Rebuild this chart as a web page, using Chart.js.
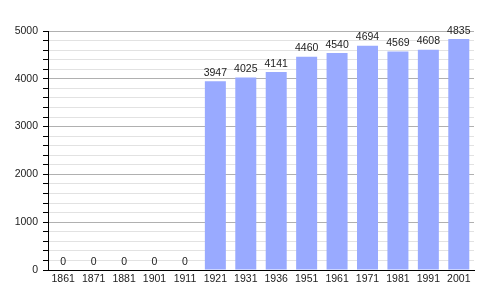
<!DOCTYPE html>
<html>
<head>
<meta charset="utf-8">
<script src="https://cdn.jsdelivr.net/npm/chart.js@4.4.0/dist/chart.umd.min.js"></script>
<style>
  html, body { margin: 0; padding: 0; background: #fff; }
  #wrap { width: 500px; height: 300px; }
</style>
</head>
<body>
<div id="wrap"><canvas id="myChart" width="500" height="300"></canvas></div>
<script>
const years = ["1861","1871","1881","1901","1911","1921","1931","1936","1951","1961","1971","1981","1991","2001"];
const population = [0, 0, 0, 0, 0, 3947, 4025, 4141, 4460, 4540, 4694, 4569, 4608, 4835];
const yMax = 5000;
const yStep = 200;

// value labels over each bar
const valueLabels = {
  id: "valueLabels",
  afterDatasetsDraw(chart) {
    const ctx = chart.ctx;
    const meta = chart.getDatasetMeta(0);
    ctx.save();
    ctx.font = "10.5px 'Liberation Sans', Arial, sans-serif";
    ctx.fillStyle = "#222";
    ctx.textAlign = "center";
    ctx.textBaseline = "bottom";
    meta.data.forEach((bar, i) => {
      ctx.fillText(String(population[i]), bar.x, bar.y - 3);
    });
    ctx.restore();
  }
};

const data = {
  labels: years,
  datasets: [{
    data: population,
    backgroundColor: "rgb(153, 170, 255)",
    borderWidth: 0,
    categoryPercentage: 1,
    barPercentage: 0.69
  }]
};

const config = {
  type: "bar",
  data,
  options: {
    responsive: false,
    animation: false,
    layout: { padding: { top: 31, right: 26, left: 0, bottom: 0 } },
    plugins: {
      legend: { display: false },
      tooltip: { enabled: false }
    },
    scales: {
      x: {
        grid: { display: false, drawTicks: false, tickLength: 0 },
        border: { display: true, color: "#000", width: 1 },
        ticks: {
          color: "#222",
          padding: 3,
          maxRotation: 0,
          autoSkip: false,
          font: { family: "'Liberation Sans', Arial, sans-serif", size: 10.5 }
        },
        afterFit(scale) { scale.height = 30; }
      },
      y: {
        min: 0,
        max: yMax,
        border: { display: true, color: "#000", width: 1 },
        grid: {
          color: (c) => (c.tick && c.tick.value % 1000 === 0) ? "#b0b0b0" : "#e2e2e2",
          tickColor: "#000",
          tickLength: 5,
          drawOnChartArea: true
        },
        ticks: {
          stepSize: yStep,
          autoSkip: false,
          color: "#222",
          padding: 5,
          font: { family: "'Liberation Sans', Arial, sans-serif", size: 10.5 },
          callback: (v) => (v % 1000 === 0 ? String(v) : "")
        },
        afterFit(scale) { scale.width = 48; }
      }
    }
  },
  plugins: [valueLabels]
};

const myChart = new Chart(document.getElementById("myChart"), config);
</script>
</body>
</html>
